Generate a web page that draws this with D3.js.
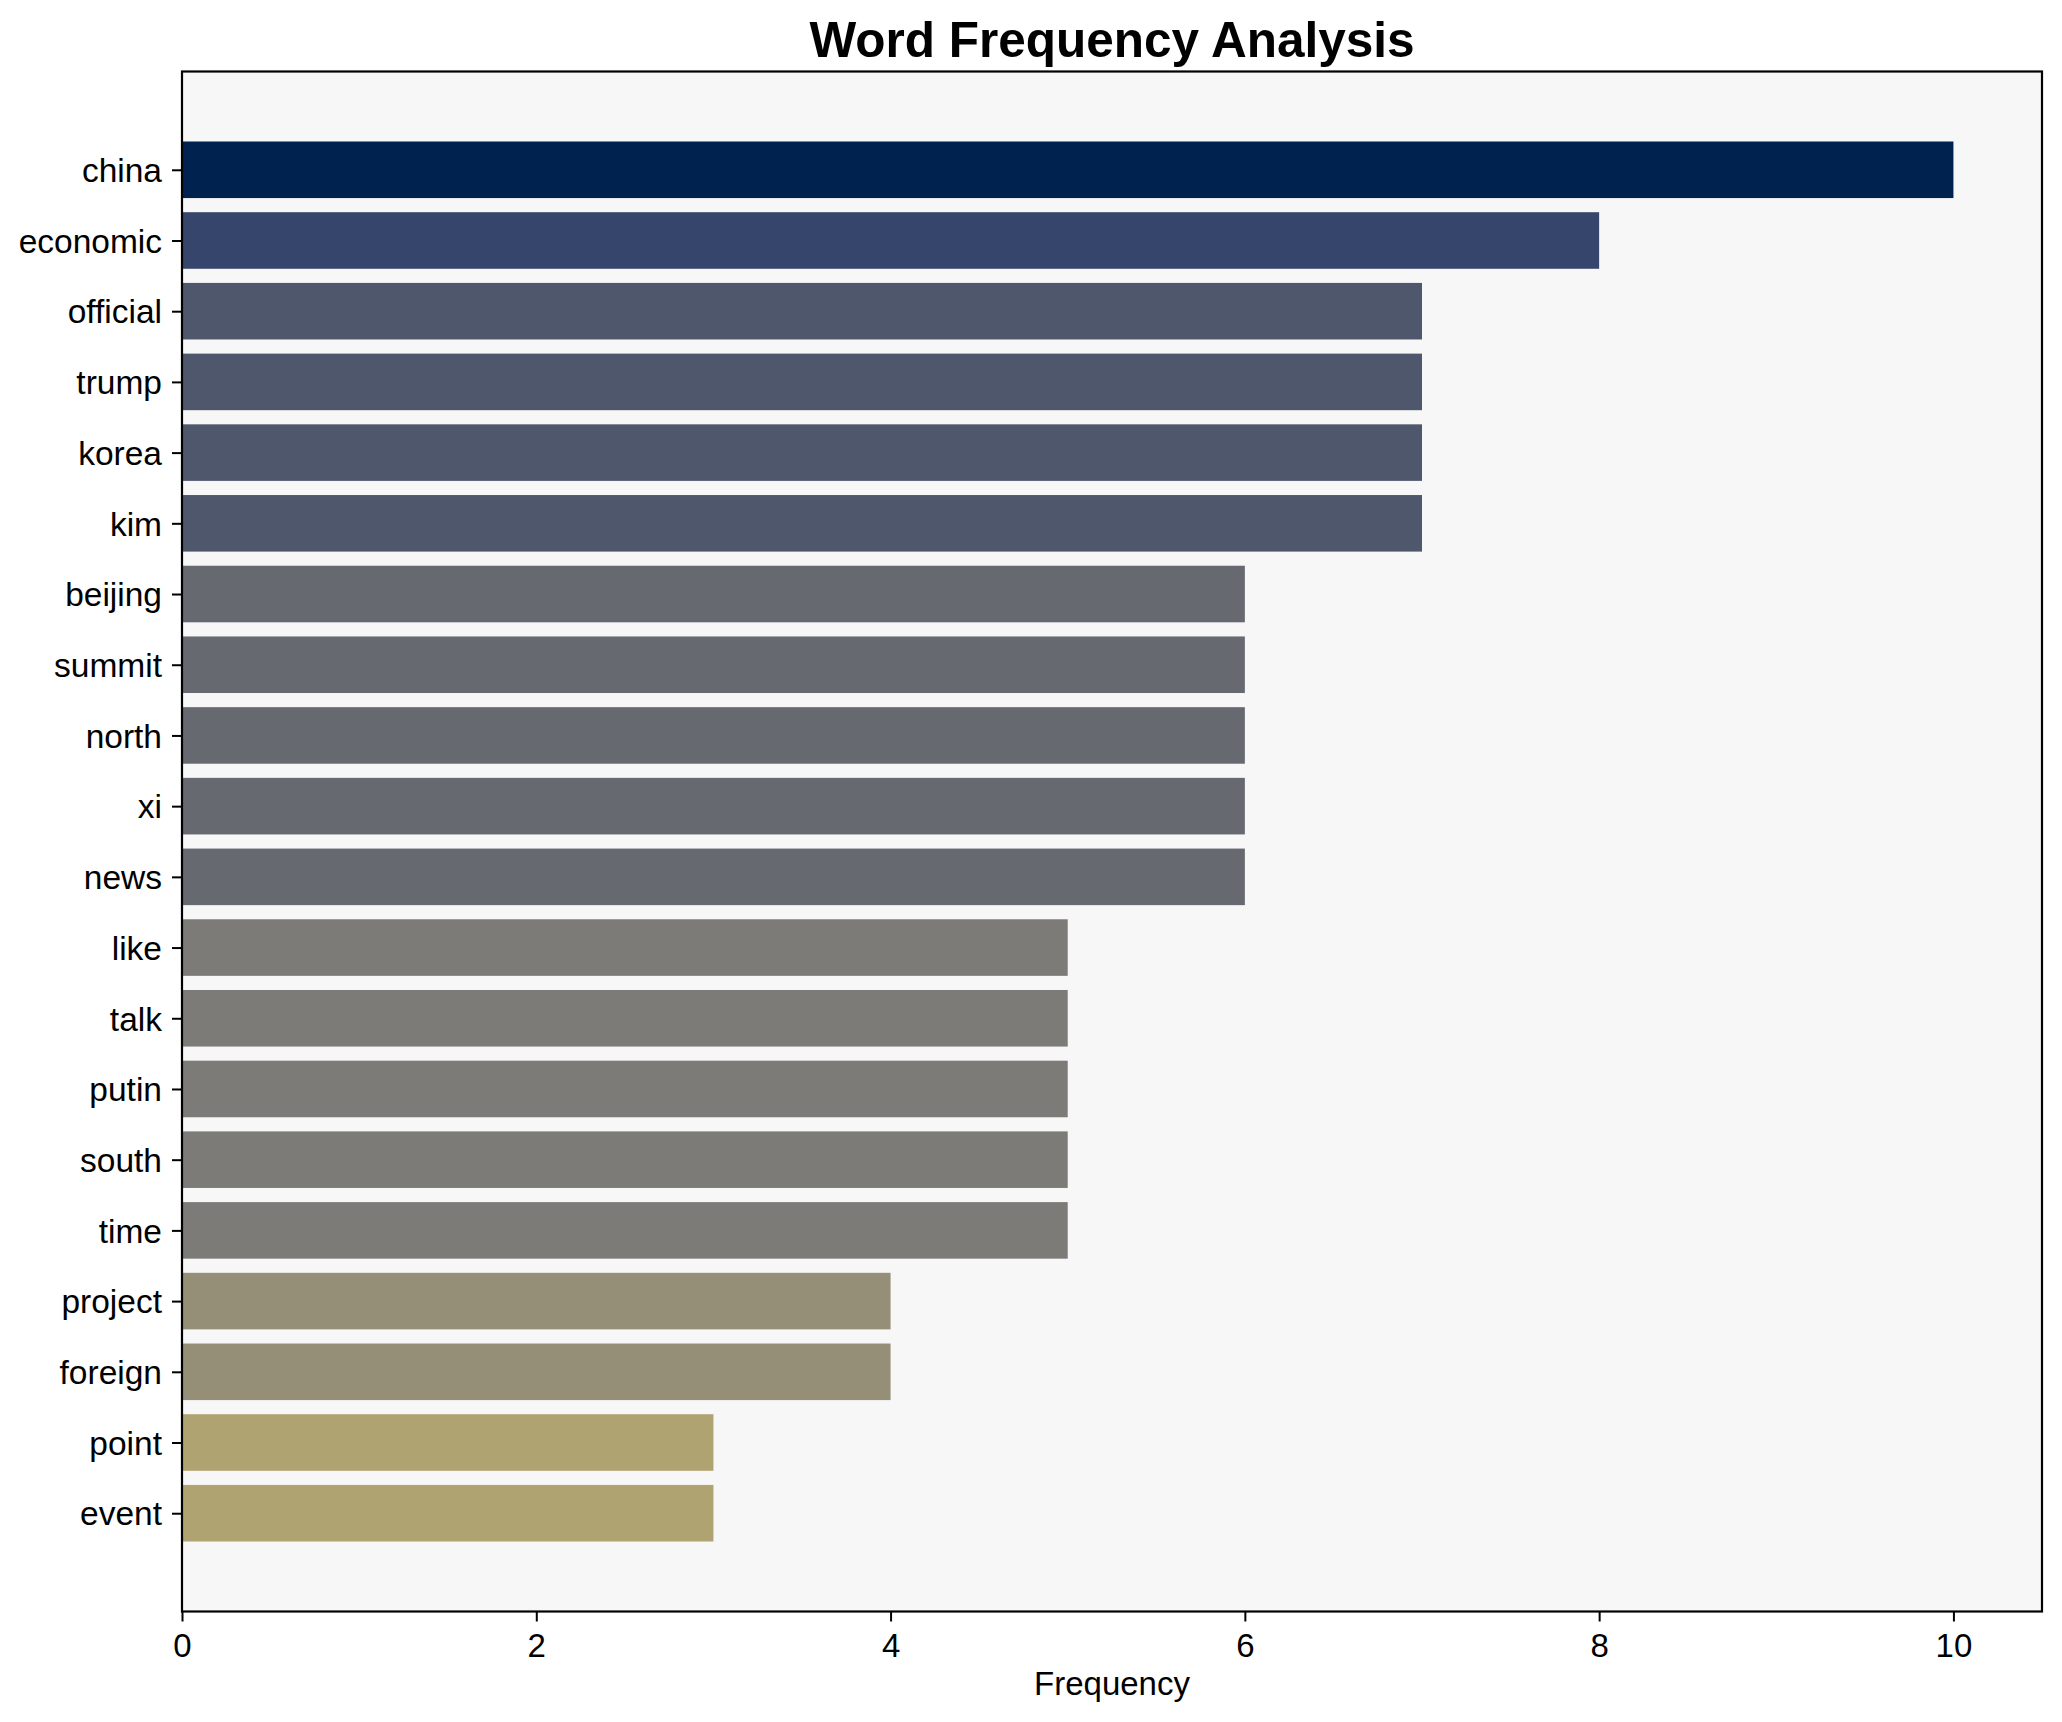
<!DOCTYPE html>
<html>
<head>
<meta charset="utf-8">
<script src="https://cdn.jsdelivr.net/npm/d3@7"></script>
<style>
  html, body { margin: 0; padding: 0; background: #ffffff; }
  svg { display: block; }
  text { font-family: "Liberation Sans", Arial, Helvetica, sans-serif; }
</style>
</head>
<body>
<svg id="chart" width="2062" height="1722"></svg>
<script>
// ---- data ----
const words = ["china","economic","official","trump","korea","kim","beijing","summit","north","xi","news","like","talk","putin","south","time","project","foreign","point","event"];
const counts = [10,8,7,7,7,7,6,6,6,6,6,5,5,5,5,5,4,4,3,3];
const xTicks = [0,2,4,6,8,10];
const titleText = "Word Frequency Analysis";
const xLabel = "Frequency";

// ---- layout ----
const W = 2062, H = 1722;
const plot = { left: 182, right: 2042, top: 71.5, bottom: 1611.5 };

const svg = d3.select("#chart");
svg.append("rect").attr("x",0).attr("y",0).attr("width",W).attr("height",H).attr("fill","#ffffff");

const x = d3.scaleLinear().domain([0, 10.5]).range([plot.left, plot.right]);
// matplotlib barh: categories at 0..n-1, inverted, with 5% margins
const n = words.length;
const pad = 0.4;
const ext = (n - 1 + 2 * pad) * 0.05;
const y = d3.scaleLinear().domain([-pad - ext, n - 1 + pad + ext]).range([plot.top, plot.bottom]);
const barH = y(0.8) - y(0);

// cividis colors (matplotlib) by normalized t = 1 - v/max
const color = d3.scaleLinear()
  .domain([0, 0.2, 0.3, 0.4, 0.5, 0.6, 0.7, 1])
  .range(["#00224e","#35456c","#4f576c","#666970","#7c7b78","#958f78","#aea371","#fee838"]);
const maxV = d3.max(counts);

// plot background
svg.append("rect")
  .attr("x", plot.left).attr("y", plot.top)
  .attr("width", plot.right - plot.left).attr("height", plot.bottom - plot.top)
  .attr("fill", "#f7f7f7");

// bars
svg.append("g").selectAll("rect")
  .data(words.map((w, i) => ({ w, v: counts[i], i })))
  .join("rect")
  .attr("x", x(0))
  .attr("y", d => y(d.i - 0.4))
  .attr("width", d => x(d.v) - x(0))
  .attr("height", barH)
  .attr("fill", d => color(1 - d.v / maxV));

// axes
const yAxis = d3.axisLeft(y)
  .tickValues(d3.range(n))
  .tickFormat(i => words[i])
  .tickSize(10).tickPadding(10);
const gy = svg.append("g").attr("transform", `translate(${plot.left},0)`).call(yAxis);
gy.select(".domain").remove();
gy.selectAll(".tick line").attr("stroke", "#000").attr("stroke-width", 2);
gy.selectAll(".tick text").attr("fill", "#000").style("font-size", "33.5px").attr("dy", "0.35em");

const xAxis = d3.axisBottom(x).tickValues(xTicks).tickFormat(d3.format("d"))
  .tickSize(10).tickPadding(12);
const gx = svg.append("g").attr("transform", `translate(0,${plot.bottom})`).call(xAxis);
gx.select(".domain").remove();
gx.selectAll(".tick line").attr("stroke", "#000").attr("stroke-width", 2);
gx.selectAll(".tick text").attr("fill", "#000").style("font-size", "33px");

// frame
svg.append("rect")
  .attr("x", plot.left).attr("y", plot.top)
  .attr("width", plot.right - plot.left).attr("height", plot.bottom - plot.top)
  .attr("fill", "none").attr("stroke", "#000").attr("stroke-width", 2.2);

// title & label
svg.append("text")
  .attr("x", (plot.left + plot.right) / 2).attr("y", 57)
  .attr("text-anchor", "middle")
  .style("font-size", "49.5px").style("font-weight", "bold")
  .attr("fill", "#000")
  .text(titleText);

svg.append("text")
  .attr("x", (plot.left + plot.right) / 2).attr("y", 1695)
  .attr("text-anchor", "middle")
  .style("font-size", "33px")
  .attr("fill", "#000")
  .text(xLabel);
</script>
</body>
</html>
